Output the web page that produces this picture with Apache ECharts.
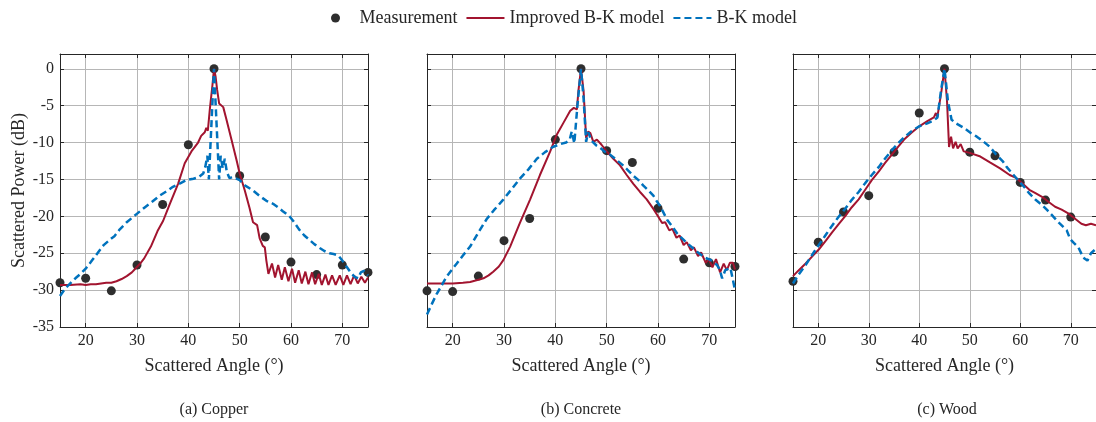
<!DOCTYPE html>
<html>
<head>
<meta charset="utf-8">
<title>Scattered power vs. scattered angle</title>
<script src="https://cdn.jsdelivr.net/npm/echarts@6.0.0/dist/echarts.min.js"></script>
<style>
  html, body { margin: 0; padding: 0; background: #fff; }
  #chart { width: 1096px; height: 422px; }
</style>
</head>
<body>
<div id="chart"></div>
<script>
// measured points, every 5 degrees
const measAngles = [15, 20, 25, 30, 35, 40, 45, 50, 55, 60, 65, 70, 75];
const copperMeas = [-29.0, -28.4, -30.1, -26.6, -18.4, -10.3, 0, -14.5, -22.8, -26.2, -27.9, -26.6, -27.6];
const concreteMeas = [-30.1, -30.2, -28.1, -23.3, -20.3, -9.6, 0, -11.1, -12.7, -18.9, -25.8, -26.3, -26.8];
const woodMeas = [-28.8, -23.5, -19.4, -17.2, -11.3, -6.0, 0, -11.3, -11.8, -15.4, -17.8, -20.1, null];

// model curves as [angle, dB]
const copperImproved = [
  [15, -29.3], [17, -29.3], [19, -29.2], [20, -29.3], [21, -29.2], [22, -29.2], [23, -29.1], [24, -29.0],
  [25, -29.0], [26, -28.8], [27, -28.5], [28, -28.1], [29, -27.6], [29.8, -27.0], [30.5, -26.5], [31.4, -25.7],
  [32.7, -24.1], [34, -22.0], [35.1, -20.6], [36.4, -18.3], [38, -15.6], [39.3, -12.8], [40.6, -11.2],
  [41.9, -10.0], [42.5, -9.1], [43.2, -8.6], [43.5, -8.0], [43.8, -8.4], [44.2, -5.4], [44.7, -2.2], [45, 0],
  [45.3, -1.0], [45.6, -2.8], [46.0, -4.7], [46.8, -5.2], [47.4, -6.8], [48.4, -9.6], [49.4, -12.4], [50, -14.2],
  [51, -16.5], [51.9, -18.8], [52.6, -20.8], [53.4, -21.2], [53.9, -23.0], [54.5, -24.0], [54.9, -24.2],
  [55.2, -26.0], [55.6, -27.8], [56.3, -26.4], [56.9, -28.3], [57.5, -26.6], [58.2, -28.6], [58.8, -26.9],
  [59.5, -28.8], [60.2, -27.1], [60.8, -29.0], [61.5, -27.3], [62.1, -29.1], [62.8, -27.5], [63.4, -29.2],
  [64.1, -27.6], [64.7, -29.2], [65.4, -27.8], [66.0, -29.3], [66.7, -27.9], [67.3, -29.3], [68.0, -28.0],
  [68.7, -29.3], [69.5, -28.0], [70.2, -29.3], [70.9, -28.0], [71.6, -29.2], [72.3, -28.0], [73.0, -29.1],
  [73.7, -28.2], [74.4, -29.0], [75, -28.3]
];
const copperBK = [
  [15, -30.8], [16, -29.8], [17, -29.1], [18, -28.4], [19, -27.8], [20, -27.1], [21, -26.2], [22.3, -25.0],
  [23.5, -23.9], [25, -23.0], [25.6, -22.7], [26.6, -21.8], [28, -20.8], [29.9, -19.7], [31.5, -18.8],
  [33, -18.0], [34.4, -17.2], [36, -16.5], [37, -16.0], [38.5, -15.5], [39.6, -15.1], [41, -14.9], [42, -14.7],
  [42.9, -14.2], [43.3, -13.3], [43.7, -11.8], [44.0, -15.0], [44.5, -7.5], [45, 0], [45.5, -7.5], [46.0, -15.0],
  [46.3, -11.8], [46.7, -13.5], [47.1, -12.2], [47.5, -14.0], [48, -14.8], [48.7, -14.7], [50, -15.1],
  [51, -15.8], [52.6, -16.5], [54, -17.3], [55.2, -17.9], [56.5, -18.3], [57.7, -18.9], [58.4, -19.3],
  [59.7, -20.0], [60.4, -20.6], [61.6, -21.8], [62.6, -22.6], [63.6, -23.2], [64.6, -23.8], [65.6, -24.3],
  [66.5, -24.7], [67.5, -25.0], [68.3, -25.1], [69.2, -25.3], [70, -26.0], [70.8, -26.8], [71.6, -27.6],
  [72.4, -28.2], [73.1, -28.4], [73.6, -27.6], [74.2, -27.4], [75, -28.0]
];
const concreteImproved = [
  [15, -29.1], [17, -29.1], [20, -29.1], [22, -29.0], [23.4, -28.9], [25, -28.6], [26, -28.4], [27, -28.0],
  [27.9, -27.5], [29, -26.8], [29.9, -25.9], [31.2, -24.1], [33.1, -20.9], [35.1, -17.7], [37, -14.4],
  [39, -11.2], [40.3, -8.9], [41.6, -7.3], [42.9, -5.7], [43.6, -5.3], [44.2, -5.5], [44.5, -3.0], [45, 0],
  [45.5, -3.0], [46, -9.4], [46.4, -8.5], [46.8, -8.7], [47.4, -9.9], [48.1, -9.6], [49, -10.3], [50, -11.2],
  [51.3, -12.2], [52.6, -13.1], [53.9, -14.4], [55.2, -15.6], [56.5, -16.7], [57.8, -17.7], [59.1, -19.0],
  [60, -20.0], [60.8, -20.9], [61.4, -20.8], [62.2, -21.9], [62.8, -21.7], [63.6, -22.9], [64.2, -22.6],
  [65.0, -23.9], [65.6, -23.5], [66.4, -24.6], [67.0, -24.2], [67.8, -25.4], [68.4, -24.9], [69.3, -26.3],
  [69.9, -25.8], [70.6, -26.9], [71.3, -25.8], [72.1, -27.6], [72.8, -26.4], [73.4, -27.3], [74.0, -26.3],
  [74.6, -26.3], [75, -27.2]
];
const concreteBK = [
  [15, -33.3], [16, -31.8], [16.9, -30.5], [18, -29.2], [18.8, -28.2], [20, -27.1], [20.8, -26.4], [22, -25.3],
  [23.4, -24.1], [25, -22.2], [26.6, -20.4], [28, -19.2], [29.9, -17.7], [31.5, -16.3], [33.1, -14.9],
  [34.8, -13.6], [36.4, -12.2], [38, -11.3], [39.5, -10.6], [41, -10.2], [42.1, -10.0], [42.8, -9.6],
  [43.2, -8.5], [43.7, -10.1], [44.3, -5.0], [45, 0], [45.5, -4.0], [46, -9.9], [46.4, -8.6], [47.1, -9.8],
  [48, -10.4], [48.7, -10.7], [49.9, -11.4], [50.6, -11.6], [52, -12.4], [53.2, -13.1], [54.2, -13.8],
  [55.2, -14.5], [56.2, -15.1], [57.1, -15.8], [58, -16.4], [59.1, -17.2], [59.8, -18.0], [60.4, -18.6],
  [61.8, -20.5], [62.8, -21.4], [63.7, -22.3], [64.7, -23.0], [65.6, -23.6], [66.6, -24.2], [67.6, -24.8],
  [68.9, -25.5], [70.2, -25.9], [71.5, -26.6], [72.0, -27.2], [72.5, -28.4], [73.1, -27.3], [74.1, -27.0],
  [74.5, -28.3], [75, -30.0]
];
const woodImproved = [
  [15, -28.1], [16, -27.4], [17.5, -26.4], [19, -25.3], [20.1, -24.5], [21.5, -23.3], [22.7, -22.2], [24, -21.1],
  [25.3, -20.0], [26.6, -18.8], [28, -17.7], [29.3, -16.4], [30.6, -15.1], [32, -13.9], [33.2, -12.8],
  [34.5, -11.7], [35.8, -10.6], [37, -9.6], [38.4, -8.7], [40, -7.8], [41.6, -7.1], [42.9, -6.6], [43.3, -6.0],
  [43.6, -6.5], [43.9, -6.6], [44.4, -3.0], [45, 0], [45.5, -4.4], [45.9, -10.6], [46.3, -9.2], [46.7, -10.8],
  [47.2, -9.9], [47.6, -10.8], [48.2, -10.2], [48.8, -11.2], [50, -11.4], [52.1, -11.9], [54, -12.7],
  [56, -13.5], [57.9, -14.4], [59.2, -14.8], [60.5, -15.6], [61.8, -16.4], [63.1, -16.9], [64.4, -17.4],
  [65.7, -18.1], [66.9, -18.7], [68.2, -19.1], [69.5, -19.6], [70.8, -20.3], [72.1, -21.0], [73, -21.2],
  [74, -21.0], [75, -21.2]
];
const woodBK = [
  [15, -29.1], [16, -28.0], [17.5, -26.6], [19, -25.0], [20.1, -23.9], [21.5, -22.5], [22.7, -21.3], [24, -20.1],
  [25.3, -19.0], [26.6, -17.8], [28, -16.7], [29.3, -15.5], [30.6, -14.4], [32, -13.3], [33.2, -12.2],
  [34.5, -11.1], [35.8, -10.1], [37, -9.3], [38.4, -8.5], [40, -7.8], [41.6, -7.4], [42.9, -7.0], [43.6, -6.6],
  [44.3, -3.0], [45, 0], [45.7, -4.5], [46.4, -6.9], [47.3, -7.4], [48.8, -8.0], [50.2, -8.7], [51.4, -9.2],
  [52.6, -9.8], [54, -10.6], [55.2, -11.6], [56.6, -12.6], [57.3, -13.3], [58.3, -14.1], [59.2, -14.8],
  [60.5, -15.8], [61.8, -16.9], [63.1, -17.8], [64.4, -18.5], [65.4, -19.2], [66.9, -20.3], [67.7, -20.9],
  [68.6, -21.5], [69.2, -21.9], [69.9, -23.1], [70.6, -23.6], [71.5, -24.2], [72.5, -25.6], [73.3, -26.0],
  [74, -25.0], [75, -24.4]
];

const xTicks = [20, 30, 40, 50, 60, 70];
const yTicks = [-35, -30, -25, -20, -15, -10, -5, 0];
const captions = ['(a) Copper', '(b) Concrete', '(c) Wood'];

const FONT = 'Liberation Serif';
const INK = '#262626';
const RED = '#A2142F';
const BLUE = '#0072BD';
const DOT = '#2e2e2e';
const GRIDLINE = '#b6b6b6';

const panels = [
  { left: 60, meas: copperMeas, imp: copperImproved, bk: copperBK },
  { left: 427, meas: concreteMeas, imp: concreteImproved, bk: concreteBK },
  { left: 793, meas: woodMeas, imp: woodImproved, bk: woodBK }
];
const PW = 308, PT = 54, PH = 273;

const grids = [], xAxes = [], yAxes = [], series = [], graphics = [];

// tick labels go through rich text so the serif face is used for sure
const tickLabel = (show, values) => ({
  show: show, customValues: values, margin: 6,
  formatter: v => '{t|' + v + '}',
  rich: { t: { color: INK, fontFamily: FONT, fontSize: 16 } }
});

panels.forEach((p, i) => {
  grids.push({ left: p.left, top: PT, width: PW, height: PH, show: false });

  const line = { show: true, onZero: false, lineStyle: { color: INK, width: 1 } };
  // bottom / left axes carry labels and grid lines
  xAxes.push({
    type: 'value', gridIndex: i, min: 15, max: 75, position: 'bottom',
    axisLine: line,
    axisTick: { show: true, inside: true, length: 4, customValues: xTicks, lineStyle: { color: INK } },
    axisLabel: tickLabel(true, xTicks),
    splitLine: { show: true, lineStyle: { color: GRIDLINE, width: 1 } },
    name: 'Scattered Angle (°)', nameLocation: 'middle', nameGap: 30,
    nameTextStyle: { color: INK, fontFamily: FONT, fontSize: 18 }
  });
  // top axis only for the box + inner ticks
  xAxes.push({
    type: 'value', gridIndex: i, min: 15, max: 75, position: 'top',
    axisLine: line,
    axisTick: { show: true, inside: true, length: 4, customValues: xTicks, lineStyle: { color: INK } },
    axisLabel: { show: false }, splitLine: { show: false }
  });
  yAxes.push({
    type: 'value', gridIndex: i, min: -35, max: 2, position: 'left',
    axisLine: line,
    axisTick: { show: true, inside: true, length: 4, customValues: yTicks, lineStyle: { color: INK } },
    axisLabel: tickLabel(i === 0, yTicks),
    splitLine: { show: true, lineStyle: { color: GRIDLINE, width: 1 } },
    name: i === 0 ? 'Scattered Power (dB)' : '', nameLocation: 'middle', nameGap: 32,
    nameTextStyle: { color: INK, fontFamily: FONT, fontSize: 18 }
  });
  yAxes.push({
    type: 'value', gridIndex: i, min: -35, max: 2, position: 'right',
    axisLine: line,
    axisTick: { show: true, inside: true, length: 4, customValues: yTicks, lineStyle: { color: INK } },
    axisLabel: { show: false }, splitLine: { show: false }
  });

  const xi = 2 * i;
  series.push({
    name: 'Measurement', type: 'scatter', xAxisIndex: xi, yAxisIndex: xi,
    data: measAngles.map((a, k) => [a, p.meas[k]]),
    symbol: 'circle', symbolSize: 9,
    itemStyle: { color: DOT, opacity: 1 }
  });
  series.push({
    name: 'Improved B-K model', type: 'line', xAxisIndex: xi, yAxisIndex: xi,
    data: p.imp, symbol: 'none',
    lineStyle: { color: RED, width: 2 }, itemStyle: { color: RED }
  });
  series.push({
    name: 'B-K model', type: 'line', xAxisIndex: xi, yAxisIndex: xi,
    data: p.bk, symbol: 'none',
    lineStyle: { color: BLUE, width: 2.5, type: [7, 4] }, itemStyle: { color: BLUE }
  });

  graphics.push({
    type: 'text', x: p.left + PW / 2, y: 410,
    style: { text: captions[i], fill: INK, font: '16px ' + FONT, textAlign: 'center', textVerticalAlign: 'middle' }
  });
});

const chart = echarts.init(document.getElementById('chart'));
chart.setOption({
  animation: false,
  backgroundColor: '#ffffff',
  textStyle: { fontFamily: FONT },
  legend: {
    left: 326, top: 4,
    itemWidth: 38, itemHeight: 9, itemGap: 8,
    textStyle: { color: INK, fontFamily: FONT, fontSize: 18 },
    data: [
      { name: 'Measurement', icon: 'circle', itemStyle: { color: DOT, opacity: 1 } },
      { name: 'Improved B-K model', itemStyle: { opacity: 0 } },
      { name: 'B-K model', itemStyle: { opacity: 0 } }
    ]
  },
  grid: grids,
  xAxis: xAxes,
  yAxis: yAxes,
  series: series,
  graphic: graphics
});
</script>
</body>
</html>
